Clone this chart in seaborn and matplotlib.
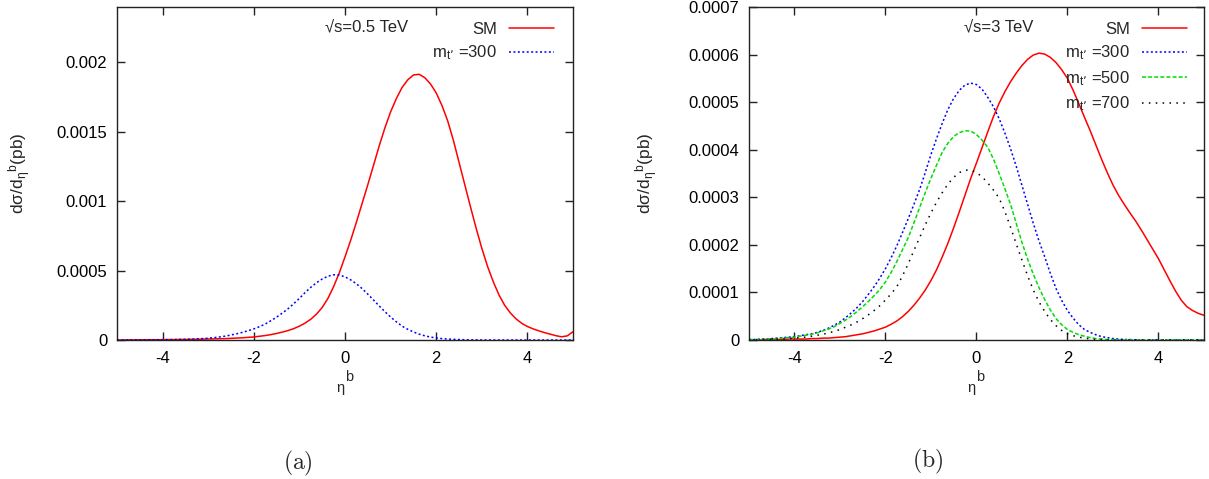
import numpy as np
import pandas as pd
import matplotlib
matplotlib.use('Agg')
import matplotlib.pyplot as plt
import seaborn as sns
from matplotlib.ticker import FuncFormatter

# eta^b grid, step 0.125 from -5 to 5
eta = np.linspace(-5, 5, 81)

# (a) sqrt(s) = 0.5 TeV
sm_05 = [0.0, 0.0, 0.000001, 0.000001, 0.000001, 0.000002, 0.000002, 0.000002,
         0.000002, 0.000003, 0.000003, 0.000004, 0.000004, 0.000005, 0.000005, 0.000006,
         0.000007, 0.000008, 0.000009, 0.000010, 0.000012, 0.000014, 0.000016, 0.000019,
         0.000022, 0.000027, 0.000032, 0.000039, 0.000047, 0.000057, 0.000068, 0.000082,
         0.000100, 0.000122, 0.000150, 0.000187, 0.000235, 0.000300, 0.000385, 0.000485,
         0.000600, 0.000720, 0.000850, 0.000985, 0.001120, 0.001260, 0.001400, 0.001530,
         0.001645, 0.001740, 0.001820, 0.001875, 0.001910, 0.001915, 0.001890, 0.001845,
         0.001780, 0.001690, 0.001580, 0.001440, 0.001280, 0.001120, 0.000960, 0.000805,
         0.000660, 0.000530, 0.000420, 0.000325, 0.000250, 0.000195, 0.000152, 0.000120,
         0.000097, 0.000080, 0.000066, 0.000053, 0.000042, 0.000031, 0.000023, 0.000030,
         0.000060]
t300_05 = [0.0, 0.0, 0.0, 0.000001, 0.000001, 0.000001, 0.000001, 0.000002,
           0.000002, 0.000003, 0.000003, 0.000004, 0.000005, 0.000006, 0.000008, 0.000010,
           0.000013, 0.000017, 0.000022, 0.000028, 0.000036, 0.000045, 0.000055, 0.000067,
           0.000080, 0.000096, 0.000115, 0.000139, 0.000165, 0.000194, 0.000225, 0.000262,
           0.000300, 0.000342, 0.000380, 0.000413, 0.000440, 0.000460, 0.000470, 0.000468,
           0.000455, 0.000433, 0.000405, 0.000370, 0.000330, 0.000288, 0.000245, 0.000204,
           0.000165, 0.000131, 0.000100, 0.000077, 0.000058, 0.000042, 0.000030, 0.000021,
           0.000015, 0.000010, 0.000007, 0.000005, 0.000003, 0.000002, 0.000001, 0.000001,
           0.0, 0.0, 0.0, 0.0, 0.0, 0.0, 0.0, 0.0,
           0.0, 0.0, 0.0, 0.0, 0.0, 0.0, 0.0, 0.0,
           0.0]

# (b) sqrt(s) = 3 TeV
sm_3 = [0.0, 0.0, 0.0, 0.000001, 0.000001, 0.000001, 0.000001, 0.000002,
        0.000002, 0.000002, 0.000002, 0.000003, 0.000003, 0.000004, 0.000004, 0.000005,
        0.000006, 0.000007, 0.000009, 0.000011, 0.000013, 0.000016, 0.000019, 0.000023,
        0.000027, 0.000033, 0.000040, 0.000049, 0.000060, 0.000073, 0.000088, 0.000105,
        0.000125, 0.000148, 0.000175, 0.000204, 0.000236, 0.000270, 0.000305, 0.000340,
        0.000372, 0.000405, 0.000438, 0.000470, 0.000498, 0.000522, 0.000543, 0.000561,
        0.000577, 0.000590, 0.000599, 0.000603, 0.000601, 0.000594, 0.000583, 0.000568,
        0.000550, 0.000525, 0.000497, 0.000468, 0.000440, 0.000410, 0.000380, 0.000352,
        0.000326, 0.000304, 0.000285, 0.000267, 0.000250, 0.000231, 0.000211, 0.000191,
        0.000171, 0.000148, 0.000125, 0.000103, 0.000084, 0.000070, 0.000062, 0.000056,
        0.000052]
t300_3 = [0.000001, 0.000001, 0.000002, 0.000002, 0.000003, 0.000004, 0.000005, 0.000006,
          0.000007, 0.000009, 0.000011, 0.000013, 0.000016, 0.000020, 0.000025, 0.000031,
          0.000038, 0.000047, 0.000057, 0.000068, 0.000081, 0.000096, 0.000112, 0.000130,
          0.000150, 0.000173, 0.000198, 0.000226, 0.000255, 0.000285, 0.000316, 0.000352,
          0.000390, 0.000424, 0.000456, 0.000485, 0.000508, 0.000525, 0.000536, 0.000540,
          0.000537, 0.000527, 0.000510, 0.000490, 0.000465, 0.000435, 0.000402, 0.000365,
          0.000325, 0.000285, 0.000245, 0.000208, 0.000175, 0.000140, 0.000108, 0.000083,
          0.000062, 0.000046, 0.000032, 0.000022, 0.000016, 0.000011, 0.000007, 0.000005,
          0.000003, 0.000002, 0.000001, 0.000001, 0.0, 0.0, 0.0, 0.0,
          0.0, 0.0, 0.0, 0.0, 0.0, 0.0, 0.0, 0.0,
          0.0]
t500_3 = [0.000001, 0.000001, 0.000001, 0.000002, 0.000002, 0.000003, 0.000004, 0.000005,
          0.000006, 0.000008, 0.000010, 0.000012, 0.000015, 0.000019, 0.000023, 0.000028,
          0.000035, 0.000042, 0.000050, 0.000060, 0.000070, 0.000081, 0.000093, 0.000106,
          0.000122, 0.000142, 0.000165, 0.000190, 0.000215, 0.000246, 0.000278, 0.000310,
          0.000340, 0.000368, 0.000395, 0.000414, 0.000428, 0.000436, 0.000440, 0.000439,
          0.000432, 0.000420, 0.000405, 0.000380, 0.000350, 0.000318, 0.000285, 0.000245,
          0.000205, 0.000170, 0.000138, 0.000110, 0.000085, 0.000063, 0.000045, 0.000032,
          0.000022, 0.000016, 0.000011, 0.000008, 0.000005, 0.000003, 0.000002, 0.000001,
          0.000001, 0.0, 0.0, 0.0, 0.0, 0.0, 0.0, 0.0,
          0.0, 0.0, 0.0, 0.0, 0.0, 0.0, 0.0, 0.0,
          0.0]
t700_3 = [0.0, 0.0, 0.000001, 0.000001, 0.000001, 0.000002, 0.000002, 0.000003,
          0.000004, 0.000005, 0.000006, 0.000008, 0.000010, 0.000012, 0.000015, 0.000018,
          0.000022, 0.000027, 0.000032, 0.000038, 0.000045, 0.000053, 0.000062, 0.000072,
          0.000084, 0.000097, 0.000112, 0.000135, 0.000160, 0.000188, 0.000215, 0.000242,
          0.000267, 0.000290, 0.000310, 0.000328, 0.000342, 0.000352, 0.000357, 0.000357,
          0.000352, 0.000343, 0.000330, 0.000315, 0.000298, 0.000270, 0.000237, 0.000202,
          0.000168, 0.000135, 0.000105, 0.000080, 0.000060, 0.000043, 0.000030, 0.000020,
          0.000013, 0.000009, 0.000006, 0.000004, 0.000002, 0.000001, 0.000001, 0.0,
          0.0, 0.0, 0.0, 0.0, 0.0, 0.0, 0.0, 0.0,
          0.0, 0.0, 0.0, 0.0, 0.0, 0.0, 0.0, 0.0,
          0.0]

sns.set_theme(style='ticks')
plt.rcParams['font.family'] = ['Liberation Sans', 'DejaVu Sans']
plt.rcParams['mathtext.default'] = 'regular'
plt.rcParams['axes.unicode_minus'] = False
plt.rcParams['axes.linewidth'] = 1.0
plt.rcParams['axes.edgecolor'] = '#222222'

fig = plt.figure(figsize=(12.09, 4.79), dpi=100)
ax1 = fig.add_axes([0.0968, 0.2902, 0.3772, 0.6952])
ax2 = fig.add_axes([0.6195, 0.2902, 0.3763, 0.6952])

styles = {
    'SM': dict(color='#ff0000', linestyle='-', linewidth=1.1),
    '300': dict(color='#0000ff', linestyle=(0, (1.3, 1.6)), linewidth=1.1),
    '500': dict(color='#00dd00', linestyle=(0, (2.6, 1.4)), linewidth=1.1),
    '700': dict(color='#000000', linestyle=(0, (1.0, 3.5)), linewidth=1.1),
}
mlab = "m$_{t’}$ ="

sns.lineplot(x=eta, y=sm_05, ax=ax1, label='SM', **styles['SM'])
sns.lineplot(x=eta, y=t300_05, ax=ax1, label=mlab + '300', **styles['300'])

sns.lineplot(x=eta, y=sm_3, ax=ax2, label='SM', **styles['SM'])
sns.lineplot(x=eta, y=t300_3, ax=ax2, label=mlab + '300', **styles['300'])
sns.lineplot(x=eta, y=t500_3, ax=ax2, label=mlab + '500', **styles['500'])
sns.lineplot(x=eta, y=t700_3, ax=ax2, label=mlab + '700', **styles['700'])

fmt = FuncFormatter(lambda v, p: '%g' % round(v, 6))

for ax, top, step, title, anc in [(ax1, 0.0024, 0.0005, '√s=0.5 TeV', 0.958),
                                  (ax2, 0.0007, 0.0001, '√s=3 TeV', 0.962)]:
    ax.set_xlim(-5, 5)
    ax.set_ylim(0, top)
    ax.set_xticks([-4, -2, 0, 2, 4])
    ax.set_yticks(np.arange(0, top + 1e-9, step)[:int(round(top / step)) + 1])
    ax.yaxis.set_major_formatter(fmt)
    ax.tick_params(direction='in', top=True, right=True, length=6, width=1,
                   labelsize=12, colors='#222222', labelcolor='black')
    ax.tick_params(axis='x', pad=8)
    ax.tick_params(axis='y', pad=7)
    ax.set_xlabel(r'${}_{\eta}{}^{b}$', fontsize=15)
    ax.set_ylabel(r'd$\sigma$/d${}_{\eta}{}^{b}$(pb)', fontsize=12.5)
    ax.xaxis.set_label_coords(0.5, -0.085)
    ax.text(0.548, 0.94, title, transform=ax.transAxes, ha='center', va='center',
            fontsize=12)
    ax.legend(loc='upper right', bbox_to_anchor=(anc, 0.955), frameon=False,
              markerfirst=False, fontsize=12, handlelength=2.7, handletextpad=0.7,
              labelspacing=0.4, borderaxespad=0, borderpad=0)

ax1.yaxis.set_label_coords(-0.184, 0.5)
ax2.yaxis.set_label_coords(-0.196, 0.5)

fig.text(298 / 1209, 1 - 463 / 479, '$\\mathrm{(a)}$', ha='center', va='center',
         fontsize=17, math_fontfamily='cm')
fig.text(928 / 1209, 1 - 461 / 479, '$\\mathrm{(b)}$', ha='center', va='center',
         fontsize=17, math_fontfamily='cm')

fig.savefig('out.png', dpi=100)
